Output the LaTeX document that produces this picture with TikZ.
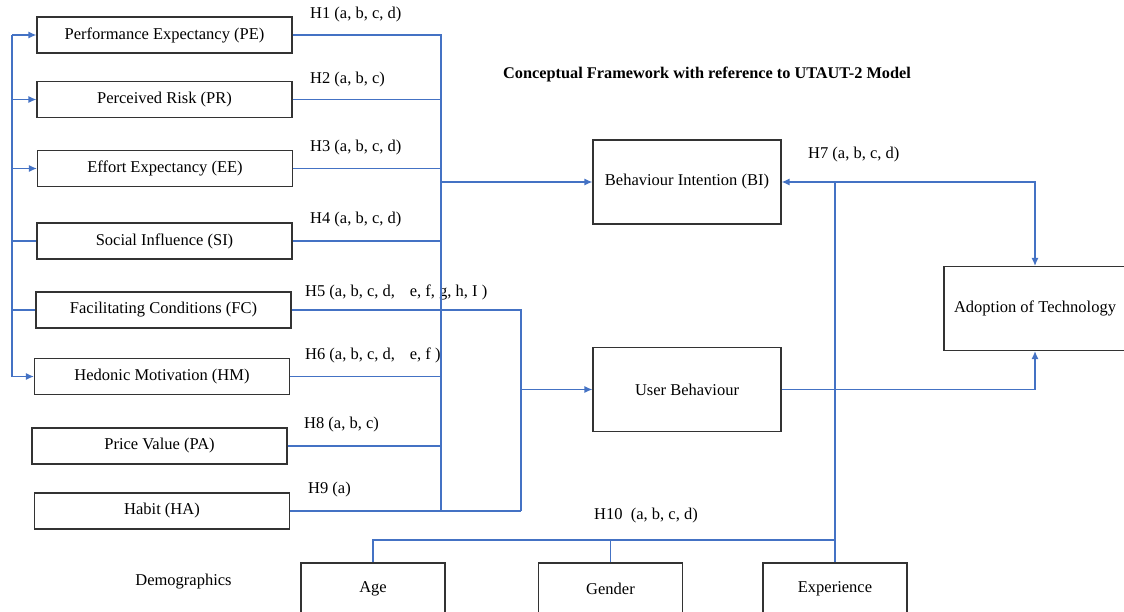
\documentclass[tikz,border=0pt]{standalone}
\usepackage{fontspec}
\setmainfont{Liberation Serif}
\usetikzlibrary{calc, arrows, arrows.meta}
\definecolor{lineblue}{HTML}{4472C4}
\tikzstyle{factor}=[draw=black!80, line width=1.1pt, minimum width=255pt, minimum height=36pt, inner sep=0pt]
\tikzstyle{outcome}=[draw=black!80, line width=1.1pt, minimum width=188pt, minimum height=84pt, inner sep=0pt]
\tikzstyle{demo}=[draw=black!80, line width=1.1pt, minimum width=144pt, minimum height=52pt, inner sep=0pt]
\tikzstyle{link}=[draw=lineblue, line width=1.3pt]
\tikzstyle{hyp}=[anchor=west, inner sep=0pt]

\begin{document}
\begin{tikzpicture}[x=1pt,y=-1pt,>={Latex[length=8pt,width=7pt]},font=\fontsize{16.5}{19}\selectfont]
      \useasboundingbox (0,0) rectangle (1124,612);
      % UTAUT-2 constructs
      \node [factor] (pe) at (164.5,35) {Performance Expectancy (PE)};
      \node [factor] (pr) at (164.5,99.5) {Perceived Risk (PR)};
      \node [factor] (ee) at (165,168.5) {Effort Expectancy (EE)};
      \node [factor] (si) at (164.5,241) {Social Influence (SI)};
      \node [factor] (fc) at (163.5,310) {Facilitating Conditions (FC)};
      \node [factor] (hm) at (162,376.5) {Hedonic Motivation (HM)};
      \node [factor] (pa) at (159.5,446) {Price Value (PA)};
      \node [factor] (ha) at (162,511) {Habit (HA)};
      \node [outcome] (bi) at (687,182) {Behaviour Intention (BI)};
      \node [outcome] (ub) at (687,389.5) {User Behaviour};
      \node [outcome, minimum width=182pt] (adopt) at (1035,308.5) {Adoption of Technology};
      \node [demo] (age) at (373,589) {Age};
      \node [demo] (gen) at (610.5,589) {Gender};
      \node [demo] (exp) at (835,589) {Experience};
      \node (dem) at (183.5,582) {Demographics};
      \node [font=\bfseries\fontsize{16.3}{18}\selectfont] (title) at (707,74) {Conceptual Framework with reference to UTAUT-2 Model};
      % hypotheses
      \node [hyp] (h1) at (310,15) {H1 (a, b, c, d)};
      \node [hyp] (h2) at (310,80) {H2 (a, b, c)};
      \node [hyp] (h3) at (310,148) {H3 (a, b, c, d)};
      \node [hyp] (h4) at (310,220) {H4 (a, b, c, d)};
      \node [hyp] (h5) at (305,292) {H5 (a, b, c, d,\hspace{0.9em}e, f, g, h, I )};
      \node [hyp] (h6) at (305,355) {H6 (a, b, c, d,\hspace{0.9em}e, f )};
      \node [hyp] (h8) at (304,425) {H8 (a, b, c)};
      \node [hyp] (h9) at (308,490) {H9 (a)};
      \node [hyp] (h7) at (808,155) {H7 (a, b, c, d)};
      \node [hyp] (h10) at (594,516) {H10\ \ (a, b, c, d)};
      % buses
      \coordinate (inbus) at (12,0);
      \coordinate (bus1) at (441,0);
      \coordinate (bus2) at (521,0);
      \coordinate (dbus) at (0,540);
      \draw [link] (inbus |- pe.west) -- (inbus |- hm.west);
      \draw [link,->] (inbus |- pe.west) -- (pe.west);
      \draw [link,->] (inbus |- pr.west) -- (pr.west);
      \draw [link,->] (inbus |- ee.west) -- (ee.west);
      \draw [link] (inbus |- si.west) -- (si.west);
      \draw [link] (inbus |- fc.west) -- (fc.west);
      \draw [link,->] (inbus |- hm.west) -- (hm.west);
      \draw [link] (pe.east) -| (bus1 |- ha.east);
      \draw [link] (pr.east) -- (bus1 |- pr.east);
      \draw [link] (ee.east) -- (bus1 |- ee.east);
      \draw [link] (si.east) -- (bus1 |- si.east);
      \draw [link] (hm.east) -- (bus1 |- hm.east);
      \draw [link] (pa.east) -- (bus1 |- pa.east);
      \draw [link] (ha.east) -- (bus2 |- ha.east);
      \draw [link] (fc.east) -| (bus2 |- ha.east);
      \draw [link,->] (bus1 |- bi.west) -- (bi.west);
      \draw [link,->] (bus2 |- ub.west) -- (ub.west);
      \draw [link,<->] (bi.east) -| (adopt.north);
      \draw [link,->] (ub.east) -| (adopt.south);
      \draw [link] (exp.north) -- (exp.north |- bi.east);
      \draw [link] (age.north) |- (dbus -| exp.north);
      \draw [link] (gen.north) -- (gen.north |- dbus);
\end{tikzpicture}
\end{document}
